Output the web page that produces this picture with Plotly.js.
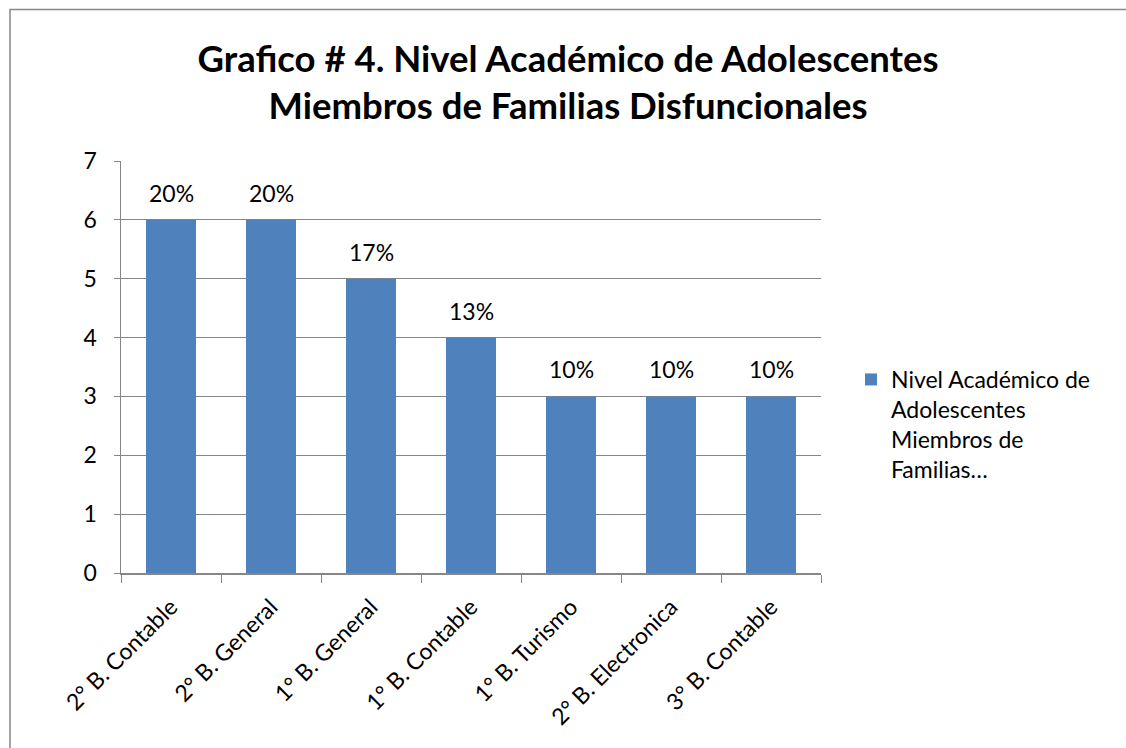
<!DOCTYPE html>
<html><head><meta charset="utf-8">
<script src="https://cdn.plot.ly/plotly-3.0.1.min.js"></script>
<style>body{margin:0;padding:0;background:#fff;}#chart{width:1126px;height:748px;}</style>
</head><body>
<div id="chart"></div>
<script>
const categories = ["2° B. Contable","2° B. General","1° B. General","1° B. Contable","1° B. Turismo","2° B. Electronica","3° B. Contable"];
const values = [6,6,5,4,3,3,3];
const percentLabels = ["20%","20%","17%","13%","10%","10%","10%"];
const seriesName = "Nivel Académico de<br>Adolescentes<br>Miembros de<br>Familias…";
const titleText = "<b>Grafico # 4. Nivel Académico de Adolescentes<br>Miembros de Familias Disfuncionales</b>";

const FONT = "Lato, 'Open Sans', sans-serif";
const FS = 23;
const trace = {
  type: "bar",
  x: categories,
  y: values,
  name: seriesName,
  marker: {color: "#4F81BD"},
  hoverinfo: "x+y"
};
const L=121, R=821, T=161, B=573, W=1126, H=748;
const pw=R-L, ph=B-T;
const annotations = categories.map((c, i) => ({
  x: c, y: values[i], xref: "x", yref: "y", text: percentLabels[i], showarrow: false,
  yanchor: "bottom", xanchor: "center", yshift: 11,
  font: {family: FONT, size: FS, color: "#000"}
}));
const layout = {
  width: W, height: H,
  margin: {l: L, r: W-R, t: T, b: H-B, pad: 0},
  paper_bgcolor: "#fff", plot_bgcolor: "#fff",
  font: {family: FONT, size: FS, color: "#000"},
  title: {text: titleText, font: {family: FONT, size: 36.5, color: "#000"}, x: 0.5045, xanchor: "center", y: 0.904, yanchor: "middle"},
  bargap: 0.5,
  showlegend: true,
  legend: {x: (851-L)/pw, y: (B-358)/ph, xanchor: "left", yanchor: "top", valign: "top", font: {family: FONT, size: FS, color: "#000"}, bgcolor: "rgba(0,0,0,0)"},
  annotations: annotations,
  xaxis: {
    type: "category", tickangle: -45, tickson: "boundaries", ticks: "outside", ticklen: 8, tickcolor: "#868686",
    showline: true, linecolor: "#868686", linewidth: 1.5, showgrid: false, zeroline: false,
    tickfont: {family: FONT, size: FS, color: "#000"}, ticklabelstandoff: 10, automargin: false
  },
  yaxis: {
    range: [0, 7], dtick: 1, ticks: "outside", ticklen: 6, tickcolor: "#868686",
    showline: true, linecolor: "#868686", linewidth: 1.5, showgrid: true, gridcolor: "#868686", gridwidth: 1.2,
    zeroline: false, tickfont: {family: FONT, size: FS, color: "#000"}, ticklabelstandoff: 12, automargin: false
  },
  shapes: [{type: "rect", xref: "paper", yref: "paper", x0: (10-L)/pw, x1: (1140-L)/pw, y0: (B-760)/ph, y1: (B-9.5)/ph, line: {color: "#868686", width: 1.5}, fillcolor: "rgba(0,0,0,0)", layer: "above"}]
};
Plotly.newPlot("chart", [trace], layout, {displayModeBar: false, staticPlot: true});
</script>
</body></html>
